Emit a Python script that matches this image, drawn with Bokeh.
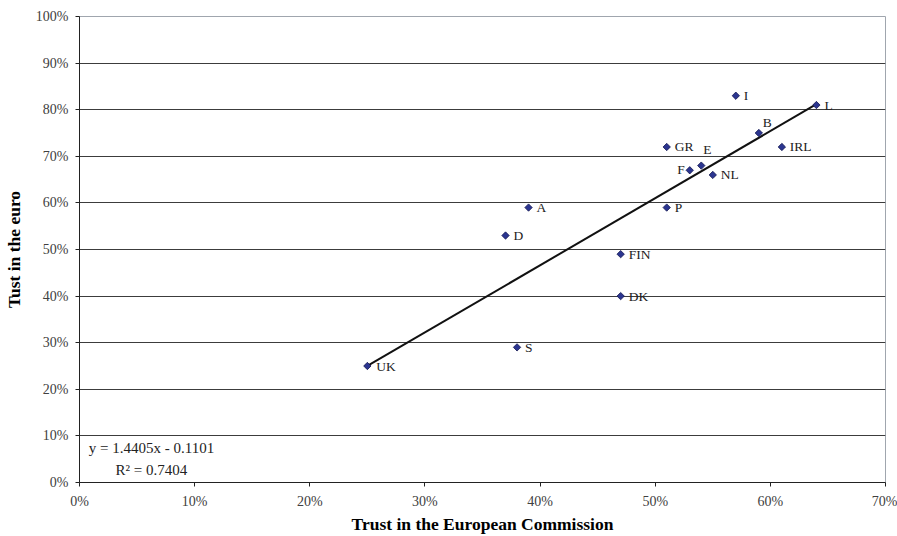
from bokeh.plotting import figure
from bokeh.models import ColumnDataSource, NumeralTickFormatter, FixedTicker, Label, Range1d
from bokeh.core.properties import value
from bokeh.embed import file_html
from bokeh.resources import INLINE
import numpy as np

# ---- data ----
countries = ["UK", "S", "D", "A", "FIN", "DK", "P", "GR", "F", "E", "NL", "I", "B", "IRL", "L"]
trust_commission = [0.25, 0.38, 0.37, 0.39, 0.47, 0.47, 0.51, 0.51, 0.53, 0.54, 0.55, 0.57, 0.59, 0.61, 0.64]
trust_euro = [0.25, 0.29, 0.53, 0.59, 0.49, 0.40, 0.59, 0.72, 0.67, 0.68, 0.66, 0.83, 0.75, 0.72, 0.81]
trend_slope = 1.4405
trend_intercept = -0.1101
r_squared = 0.7404
x_ticks = [0.0, 0.1, 0.2, 0.3, 0.4, 0.5, 0.6, 0.7]
y_ticks = [0.0, 0.1, 0.2, 0.3, 0.4, 0.5, 0.6, 0.7, 0.8, 0.9, 1.0]

# ---- label placement styling (pixel offsets) ----
default_style = (8, 0, "left")
label_style = {"E": (2, -16, "left"), "B": (4, -11, "left"), "F": (-5, -1, "right"), "UK": (9, 0, "left")}

SERIF = "Liberation Serif"

p = figure(width=897, height=536, output_backend="svg", toolbar_location=None,
           x_range=Range1d(0, 0.7), y_range=Range1d(0, 1.0),
           min_border_left=78, min_border_right=12, min_border_top=16, min_border_bottom=54)
p.background_fill_color = "white"
p.border_fill_color = "white"
p.outline_line_color = "#a0a6ae"
p.outline_line_width = 1

# axes
for ax in (p.xaxis[0], p.yaxis[0]):
    ax.formatter = NumeralTickFormatter(format="0%")
    ax.major_label_text_font = SERIF
    ax.major_label_text_font_size = "14px"
    ax.major_label_text_color = "#404040"
    ax.axis_line_color = "#222222"
    ax.axis_line_width = 1
    ax.major_tick_line_color = "#222222"
    ax.major_tick_in = 0
    ax.major_tick_out = 4
    ax.minor_tick_line_color = None
    ax.axis_label_text_font = SERIF
    ax.axis_label_text_font_style = "bold"
    ax.axis_label_text_font_size = "17.5px"
    ax.axis_label_text_color = "black"
p.xaxis[0].ticker = FixedTicker(ticks=x_ticks)
p.yaxis[0].ticker = FixedTicker(ticks=y_ticks)
p.xaxis[0].major_label_standoff = 7
p.yaxis[0].major_label_standoff = 7

p.yaxis[0].axis_label = "Tust in the euro"
p.yaxis[0].axis_label_standoff = 9
p.xaxis[0].axis_label = "Trust in the European Commission"
p.xaxis[0].axis_label_standoff = 2

p.xgrid.grid_line_color = None
p.ygrid[0].ticker = FixedTicker(ticks=y_ticks[1:])
p.ygrid.grid_line_color = "#3c3c3c"
p.ygrid.grid_line_width = 1

# trend line
tx = np.array([min(trust_commission), max(trust_commission)])
p.line(tx, trend_slope * tx + trend_intercept, line_color="#111111", line_width=2)

# points
xo, yo, al = [], [], []
for c in countries:
    s = label_style.get(c, default_style)
    xo.append(s[0]); yo.append(s[1]); al.append(s[2])
src = ColumnDataSource(dict(x=trust_commission, y=trust_euro, name=countries, xo=xo, yo=yo, al=al))
p.scatter("x", "y", source=src, marker="square", angle=np.pi / 4, size=5.2,
          fill_color="#2b3590", line_color="#141850", line_width=0.8)
p.text("x", "y", text="name", source=src, x_offset="xo", y_offset="yo", text_align="al",
       text_baseline="middle", text_font=value(SERIF), text_font_size="13.5px", text_color="#222222")

# equation
eq = "y = %.4fx - %.4f" % (trend_slope, -trend_intercept)
r2 = "R\u00b2 = %.4f" % r_squared
p.add_layout(Label(x=0.0625, y=0.075, text=eq, text_font=SERIF, text_font_size="15px",
                   text_align="center", text_baseline="middle", text_color="#222222"))
p.add_layout(Label(x=0.0625, y=0.026, text=r2, text_font=SERIF, text_font_size="15px",
                   text_align="center", text_baseline="middle", text_color="#222222"))

open("out.html", "w").write(file_html(p, INLINE))
